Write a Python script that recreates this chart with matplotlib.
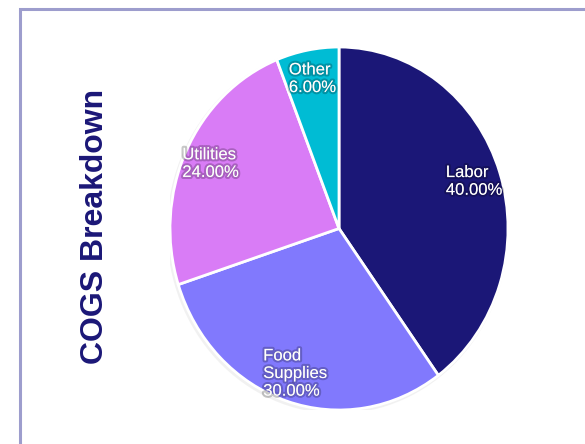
import matplotlib.pyplot as plt
import matplotlib.patheffects as pe
from matplotlib.patches import Rectangle, Ellipse
import numpy as np

plt.rcParams['font.family'] = ['Liberation Sans', 'DejaVu Sans']

labels = ['Labor', 'Food\nSupplies', 'Utilities', 'Other']
values = [40.0, 30.0, 24.0, 6.0]
colors = ['#1b1777', '#8179fd', '#d97cf6', '#00bcd4']

fig = plt.figure(figsize=(5.85, 4.44), dpi=100)

# outer frame (runs off the right/bottom edge)
fig.patches.append(Rectangle((20 / 585, -0.05), 1.0, (444 - 9) / 444 + 0.05,
                             transform=fig.transFigure, fill=False,
                             edgecolor='#9d9dcd', linewidth=2.2))

ax = fig.add_axes([170 / 585, 34 / 444, 338 / 585, 363 / 444])

# faint shadow behind pie
ax.add_patch(Ellipse((-0.008, -0.01), 2.02, 2.02, facecolor='#e4e4e4',
                     edgecolor='none', alpha=0.5, zorder=0))

wedges, _ = ax.pie(values, colors=colors, startangle=90, counterclock=False,
                   radius=1.0, wedgeprops=dict(edgecolor='white', linewidth=2),
                   frame=False)
ax.set_xlim(-1, 1)
ax.set_ylim(-1, 1)
ax.set_aspect('auto')
ax.axis('off')

total = sum(values)
start = 90.0
for lab, v in zip(labels, values):
    ang = start - v / total * 360 / 2
    start -= v / total * 360
    r = 0.84
    x = r * np.cos(np.radians(ang))
    y = r * np.sin(np.radians(ang))
    ax.text(x, y, '%s\n%.2f%%' % (lab, v), color='white', fontsize=12,
            ha='center', va='center', multialignment='left', linespacing=1.22,
            path_effects=[pe.withStroke(linewidth=3, foreground=(0, 0, 0, 0.22))])

fig.text(95 / 585, 1 - 226 / 444, 'COGS Breakdown', rotation=90, fontsize=23,
         fontweight='bold', color='#1b1777', ha='center', va='center')

fig.savefig('out.png', dpi=100)
